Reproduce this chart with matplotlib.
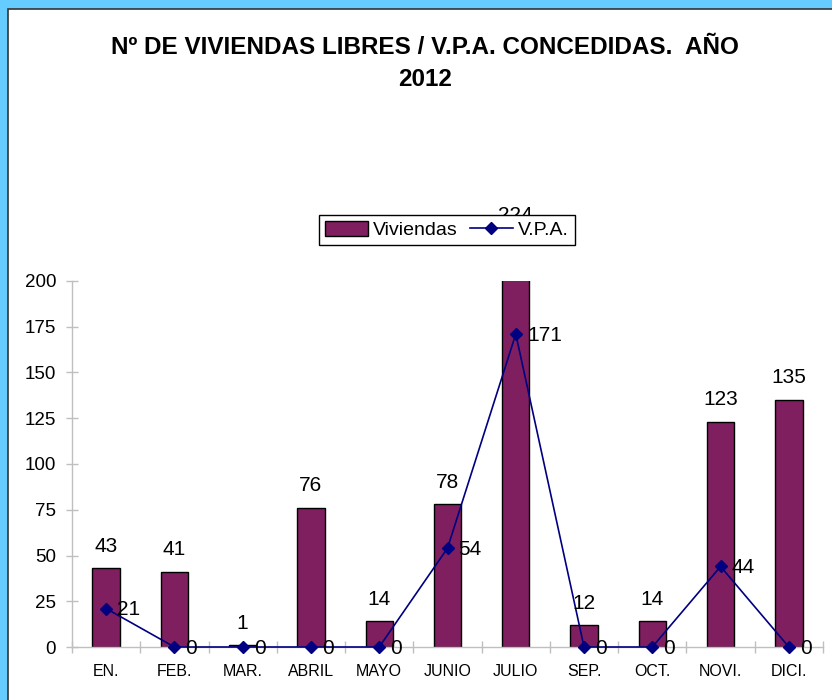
import matplotlib
matplotlib.use("Agg")
import matplotlib.pyplot as plt
from matplotlib.patches import Rectangle
import numpy as np

plt.rcParams["font.family"] = ["Liberation Sans", "DejaVu Sans"]

meses = ["EN.", "FEB.", "MAR.", "ABRIL", "MAYO", "JUNIO", "JULIO", "SEP.", "OCT.", "NOVI.", "DICI."]
viviendas = [43, 41, 1, 76, 14, 78, 224, 12, 14, 123, 135]
vpa = [21, 0, 0, 0, 0, 54, 171, 0, 0, 44, 0]
yticks = [0, 25, 50, 75, 100, 125, 150, 175, 200]

c_bar = '#7F1F5F'
c_line = '#000080'
c_axis = '#BFBFBF'

fig = plt.figure(figsize=(8.32, 7.0), dpi=100)
fig.patch.set_facecolor('#66CCFF')
# white chart area with dark border
fig.patches.append(Rectangle((8/832, -0.1), 1.0, 1.1 - 9/700, transform=fig.transFigure,
                             facecolor='white', edgecolor='#333333', linewidth=1.2, zorder=-5))

ax = fig.add_axes([72/832, 53/700, 751/832, 366/700])
ax.set_facecolor('none')
ax.set_zorder(1)

x = np.arange(len(meses))
bars = ax.bar(x, viviendas, width=0.4, color=c_bar, edgecolor='black', linewidth=1, label='Viviendas', zorder=2)
line, = ax.plot(x, vpa, '-D', color=c_line, markersize=6, linewidth=1.2, label='V.P.A.', zorder=3, clip_on=False)

for xi, v in zip(x, viviendas):
    ax.annotate(str(v), (xi, v), xytext=(0, 9), textcoords='offset points',
                ha='center', va='bottom', fontsize=15, annotation_clip=False)
for xi, v in zip(x, vpa):
    ax.annotate(str(v), (xi, v), xytext=(8, -1), textcoords='offset points',
                ha='left', va='center', fontsize=15, annotation_clip=False, zorder=4)

ax.set_xlim(-0.5, len(meses) - 0.5)
ax.set_ylim(0, 200)
ax.set_yticks(yticks)
ax.set_xticks(x)
ax.set_xticklabels(meses, fontsize=11.5)
ax.set_xticks(np.arange(-0.5, len(meses), 1), minor=True)
ax.tick_params(axis='x', which='major', length=0, pad=12)
ax.tick_params(axis='x', which='minor', direction='inout', length=9, color=c_axis, width=1)
ax.tick_params(axis='y', direction='inout', length=9, color=c_axis, width=1, labelsize=13.5, pad=7)

for s in ['top', 'right']:
    ax.spines[s].set_visible(False)
ax.spines['left'].set_color(c_axis)
ax.spines['bottom'].set_color(c_axis)
ax.spines['left'].set_linewidth(1)
ax.spines['bottom'].set_linewidth(1)

fig.text(425/832, 1 - 63/700, "Nº DE VIVIENDAS LIBRES / V.P.A. CONCEDIDAS.  AÑO\n2012",
         ha='center', va='center', fontsize=17.5, fontweight='bold', linespacing=1.5)

leg = fig.legend([bars, line], ['Viviendas', 'V.P.A.'], loc='center',
                 bbox_to_anchor=(447/832, 1 - 230/700), ncol=2, fontsize=14,
                 frameon=True, fancybox=False, framealpha=1, edgecolor='black',
                 handlelength=2.2, handleheight=0.8, columnspacing=0.6, handletextpad=0.3,
                 borderpad=0.3, borderaxespad=0)
leg.set_zorder(10)
leg.get_frame().set_linewidth(1)

fig.savefig("out.png", dpi=100, facecolor=fig.get_facecolor())
